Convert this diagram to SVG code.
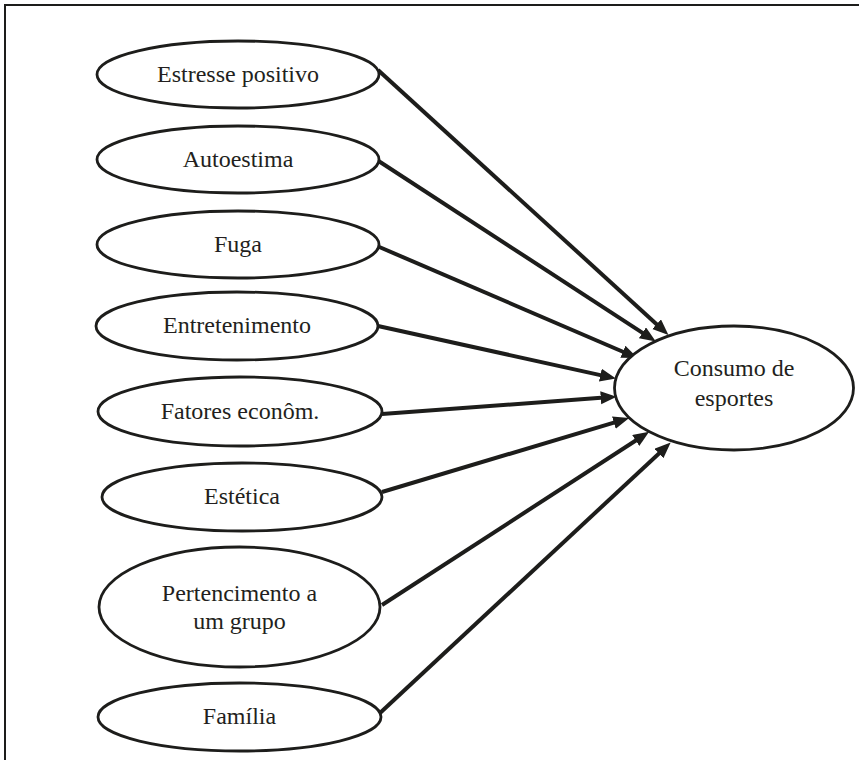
<svg xmlns="http://www.w3.org/2000/svg" width="859" height="760" viewBox="0 0 859 760">
  <style>
    .node ellipse { fill: #ffffff; stroke: #1d1d1b; stroke-width: 2.8; }
    .node text { font-size: 24px; fill: #231f20; text-anchor: middle; }
    .edge { stroke: #1d1d1b; stroke-width: 4; fill: none; marker-end: url(#arrow); }
  </style>
  <defs>
    <marker id="arrow" markerUnits="userSpaceOnUse" markerWidth="17" markerHeight="14" refX="7" refY="6.5" orient="auto">
      <path d="M0,0 L16,6.5 L0,13 z" fill="#1d1d1b"/>
    </marker>
  </defs>
  <rect width="859" height="760" fill="#ffffff"/>
  <rect x="5" y="5" width="900" height="800" fill="none" stroke="#1d1d1b" stroke-width="2"/>

  <g id="connectors">
    <line class="edge" x1="378" y1="70" x2="661.8" y2="328.9"/>
    <line class="edge" x1="377" y1="160" x2="648.3" y2="336.6"/>
    <line class="edge" x1="377" y1="246" x2="629.3" y2="354.5"/>
    <line class="edge" x1="378" y1="326" x2="607.2" y2="376.6"/>
    <line class="edge" x1="382" y1="414" x2="607.7" y2="397.3"/>
    <line class="edge" x1="382" y1="492" x2="620.6" y2="420.6"/>
    <line class="edge" x1="382" y1="605" x2="641.6" y2="436.7"/>
    <line class="edge" x1="380" y1="713" x2="664.1" y2="448.7"/>
  </g>

  <g font-family="Liberation Serif, Times New Roman, DejaVu Serif, serif">
  <g id="estresse" class="node">
    <ellipse cx="238" cy="74.5" rx="141" ry="33.5"/>
    <text x="238" y="82">Estresse positivo</text>
  </g>
  <g id="autoestima" class="node">
    <ellipse cx="238" cy="159.5" rx="141" ry="33.5"/>
    <text x="238" y="167">Autoestima</text>
  </g>
  <g id="fuga" class="node">
    <ellipse cx="238" cy="244.5" rx="141" ry="33.5"/>
    <text x="238" y="251.5">Fuga</text>
  </g>
  <g id="entretenimento" class="node">
    <ellipse cx="237" cy="326" rx="141" ry="34"/>
    <text x="237" y="333">Entretenimento</text>
  </g>
  <g id="fatores" class="node">
    <ellipse cx="240" cy="411.5" rx="142" ry="34.5"/>
    <text x="240" y="419">Fatores econôm.</text>
  </g>
  <g id="estetica" class="node">
    <ellipse cx="242" cy="497" rx="140" ry="34"/>
    <text x="242" y="504">Estética</text>
  </g>
  <g id="pertencimento" class="node">
    <ellipse cx="239.5" cy="607" rx="140.5" ry="60"/>
    <text x="239.5" y="601">Pertencimento a</text>
    <text x="239.5" y="629">um grupo</text>
  </g>
  <g id="familia" class="node">
    <ellipse cx="239.5" cy="717" rx="141.5" ry="34"/>
    <text x="239.5" y="724">Família</text>
  </g>
  <g id="consumo" class="node">
    <ellipse cx="734" cy="388" rx="119.5" ry="62"/>
    <text x="734" y="376">Consumo de</text>
    <text x="734" y="406">esportes</text>
  </g>
  </g>
</svg>
